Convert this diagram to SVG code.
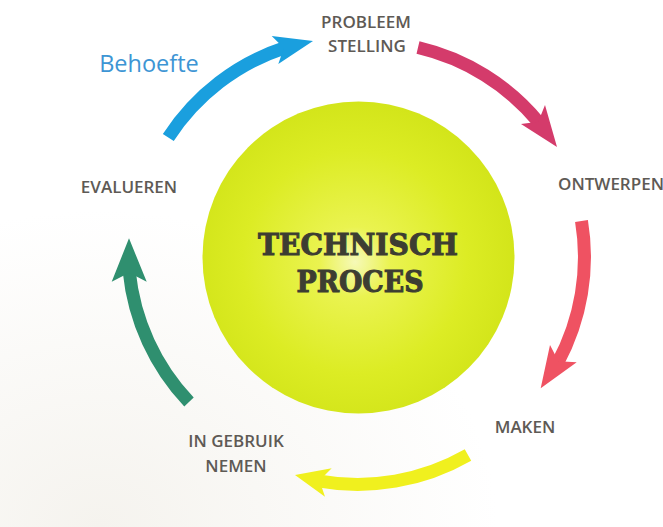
<svg xmlns="http://www.w3.org/2000/svg" width="663" height="527" viewBox="0 0 663 527">
  <defs>
    <radialGradient id="ballFill" cx="355" cy="262" r="160" gradientUnits="userSpaceOnUse">
      <stop offset="0" stop-color="#f6f9b8"/>
      <stop offset="0.22" stop-color="#eaf350"/>
      <stop offset="0.7" stop-color="#dcec24"/>
      <stop offset="1" stop-color="#d3e51a"/>
    </radialGradient>
    <radialGradient id="paper" cx="0.15" cy="1" r="0.6">
      <stop offset="0" stop-color="#f5f3ee"/>
      <stop offset="1" stop-color="#ffffff"/>
    </radialGradient>
  </defs>
  <style>
    .label { font-family: "Open Sans", "Noto Sans", "Liberation Sans", sans-serif; font-size: 17px; font-weight: 600; fill: #5e5a55; text-anchor: middle; }
    .title { font-family: "DejaVu Serif", "Liberation Serif", serif; font-weight: bold; font-size: 30px; fill: #3d3d32; stroke: #3d3d32; stroke-width: 1.1; text-anchor: middle; }
    .shaft { fill: none; stroke-width: 13; stroke-linecap: butt; }
  </style>

  <rect width="663" height="527" fill="url(#paper)"/>

  <!-- central ball -->
  <g id="technisch-proces">
    <circle cx="358.5" cy="257.5" r="156" fill="url(#ballFill)"/>
    <text class="title" x="358" y="255" textLength="200" lengthAdjust="spacingAndGlyphs">TECHNISCH</text>
    <text class="title" x="360" y="292" textLength="127" lengthAdjust="spacingAndGlyphs">PROCES</text>
  </g>

  <!-- process steps -->
  <g id="probleemstelling">
    <text class="label" x="366" y="28">PROBLEEM</text>
    <text class="label" x="367" y="52">STELLING</text>
  </g>
  <g id="ontwerpen">
    <text class="label" x="611" y="190">ONTWERPEN</text>
  </g>
  <g id="maken">
    <text class="label" x="525" y="433">MAKEN</text>
  </g>
  <g id="in-gebruik-nemen">
    <text class="label" x="236" y="447">IN GEBRUIK</text>
    <text class="label" x="236" y="472">NEMEN</text>
  </g>
  <g id="evalueren">
    <text class="label" x="129" y="193">EVALUEREN</text>
  </g>
  <g id="behoefte">
    <text x="149" y="72" font-family="'Open Sans', 'Noto Sans', sans-serif" font-size="23.5" fill="#3d95d4" text-anchor="middle">Behoefte</text>
  </g>

  <!-- curved arrows around the ball -->
  <g id="connectors">
    <g id="arrow-blue" fill="#1a9fde" stroke="#1a9fde">
      <path class="shaft" d="M168.3,137.5 A222,222 0 0 1 285.5,47.5"/>
      <polygon stroke="none" points="313,41 271.7,36 283.8,47.9 278.3,64"/>
    </g>
    <g id="arrow-pink" fill="#d43b6b" stroke="#d43b6b">
      <path class="shaft" d="M418,47.5 A222,222 0 0 1 539.3,123"/>
      <polygon stroke="none" points="557,147 545,105 538.3,121.7 521,124"/>
    </g>
    <g id="arrow-coral" fill="#ef5262" stroke="#ef5262">
      <path class="shaft" d="M581.5,221 A222,222 0 0 1 557.8,362.6"/>
      <polygon stroke="none" points="540.7,388.3 550,345 558.4,361.2 576.7,362.3"/>
    </g>
    <g id="arrow-yellow" fill="#f0f01e" stroke="#f0f01e">
      <path class="shaft" d="M468,455 A222,222 0 0 1 318,480.8"/>
      <polygon stroke="none" points="295,475 331.7,468.3 319.5,480.5 325,496.7"/>
    </g>
    <g id="arrow-green" fill="#2f8f6f" stroke="#2f8f6f">
      <path class="shaft" d="M189,402 A222,222 0 0 1 129.2,271.5"/>
      <polygon stroke="none" points="129,238.3 111.7,281.7 129.2,272.7 146.7,281.7"/>
    </g>
  </g>
</svg>
